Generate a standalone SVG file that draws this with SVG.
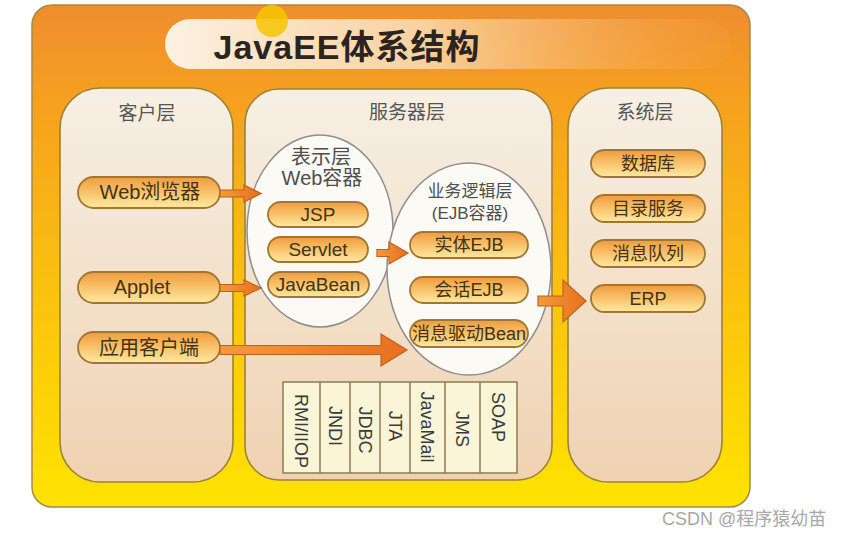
<svg xmlns="http://www.w3.org/2000/svg" width="848" height="537" viewBox="0 0 848 537">
  <defs>
    <linearGradient id="gFrame" x1="0" y1="0" x2="0" y2="1">
      <stop offset="0" stop-color="#EF8D2F"/>
      <stop offset="0.2" stop-color="#F6A11E"/>
      <stop offset="0.6" stop-color="#FCC40E"/>
      <stop offset="1" stop-color="#FFE300"/>
    </linearGradient>
    <linearGradient id="gTitle" x1="0" y1="0" x2="1" y2="0">
      <stop offset="0" stop-color="#FCF1E2" stop-opacity="1"/>
      <stop offset="0.45" stop-color="#FAD9AE" stop-opacity="0.9"/>
      <stop offset="1" stop-color="#F6A648" stop-opacity="0.15"/>
    </linearGradient>
    <linearGradient id="gPanel" x1="0" y1="0" x2="0" y2="1">
      <stop offset="0" stop-color="#F6F0E4"/>
      <stop offset="1" stop-color="#F0D2B2"/>
    </linearGradient>
    <linearGradient id="gPill" x1="0" y1="0" x2="0" y2="1">
      <stop offset="0" stop-color="#F09B3C"/>
      <stop offset="0.5" stop-color="#F8C36C"/>
      <stop offset="1" stop-color="#FFE9A2"/>
    </linearGradient>
    <linearGradient id="gArrow" x1="0" y1="0" x2="1" y2="0">
      <stop offset="0" stop-color="#F39A3A"/>
      <stop offset="1" stop-color="#E8701E"/>
    </linearGradient>
    <style>
      .frame { fill: url(#gFrame); stroke: #A58A45; stroke-width: 1.5; }
      .panel { fill: url(#gPanel); stroke: #9C8236; stroke-width: 1.6; }
      .pill { fill: url(#gPill); stroke: #A07632; stroke-width: 1.8; }
      .ell { fill: #FCFAF4; stroke: #8E8E8E; stroke-width: 1.5; }
      .arrow { fill: url(#gArrow); stroke: #C0601E; stroke-width: 1.2; }
      .t { font-family: "Liberation Sans", "Noto Sans CJK SC", sans-serif; text-anchor: middle; }
      .head { font-size: 19px; fill: #555555; }
      .lbl { fill: #45320E; }
      .grey { fill: #4E4E4E; }
      .tab { fill: #FAF5D6; stroke: #86764A; stroke-width: 1.4; }
      .tabt { font-family: "Liberation Sans", sans-serif; font-size: 18px; fill: #3A3A3A; }
    </style>
  </defs>

  <!-- outer frame -->
  <rect class="frame" x="32" y="5" width="718" height="502" rx="20"/>
  <!-- title bar -->
  <g id="title">
    <rect x="165" y="19" width="565" height="50" rx="25" fill="url(#gTitle)"/>
    <circle cx="272" cy="21" r="16" fill="#F4C600" opacity="0.85"/>
    <text class="t" x="347" y="59" font-size="34" font-weight="bold" fill="#2B2420" letter-spacing="1">JavaEE体系结构</text>
  </g>

  <!-- panels -->
  <g id="client-tier">
    <rect class="panel" x="60" y="88" width="173" height="394" rx="40"/>
    <text class="t head" x="147" y="120">客户层</text>
  </g>
  <g id="server-tier">
    <rect class="panel" x="245" y="89" width="307" height="391" rx="34"/>
    <text class="t head" x="407" y="119">服务器层</text>
  </g>
  <g id="system-tier">
    <rect class="panel" x="568" y="88" width="154" height="394" rx="40"/>
    <text class="t head" x="645" y="119">系统层</text>
  </g>

  <!-- containers -->
  <g id="web-container">
    <ellipse class="ell" cx="320" cy="231" rx="73" ry="96"/>
    <text class="t grey" x="321" y="164" font-size="20">表示层</text>
    <text class="t grey" x="322" y="185" font-size="20">Web容器</text>
  </g>
  <g id="ejb-container">
    <ellipse class="ell" cx="469" cy="269" rx="82" ry="106"/>
    <text class="t grey" x="470" y="197" font-size="17">业务逻辑层</text>
    <text class="t grey" x="470" y="219" font-size="17">(EJB容器)</text>
  </g>

  <!-- client nodes -->
  <g id="web-browser">
    <rect class="pill" x="78" y="177" width="142" height="31" rx="15.5"/>
    <text class="t lbl" x="150" y="199" font-size="20">Web浏览器</text>
  </g>
  <g id="applet">
    <rect class="pill" x="78" y="272" width="142" height="31" rx="15.5"/>
    <text class="t lbl" x="142" y="294" font-size="20">Applet</text>
  </g>
  <g id="app-client">
    <rect class="pill" x="78" y="332" width="142" height="31" rx="15.5"/>
    <text class="t lbl" x="149" y="355" font-size="20">应用客户端</text>
  </g>

  <!-- web container nodes -->
  <g id="jsp">
    <rect class="pill" x="268" y="202" width="100" height="25" rx="12.5"/>
    <text class="t lbl" x="318" y="221" font-size="19">JSP</text>
  </g>
  <g id="servlet">
    <rect class="pill" x="268" y="237" width="100" height="25" rx="12.5"/>
    <text class="t lbl" x="318" y="256" font-size="19">Servlet</text>
  </g>
  <g id="javabean">
    <rect class="pill" x="268" y="272" width="101" height="25" rx="12.5"/>
    <text class="t lbl" x="318" y="291" font-size="19">JavaBean</text>
  </g>

  <!-- EJB nodes -->
  <g id="entity-ejb">
    <rect class="pill" x="410" y="232" width="118" height="26" rx="13"/>
    <text class="t lbl" x="469" y="251" font-size="18">实体EJB</text>
  </g>
  <g id="session-ejb">
    <rect class="pill" x="410" y="277" width="118" height="26" rx="13"/>
    <text class="t lbl" x="469" y="296" font-size="18">会话EJB</text>
  </g>
  <g id="mdb">
    <rect class="pill" x="410" y="320" width="118" height="27" rx="13.5"/>
    <text class="t lbl" x="469" y="340" font-size="18">消息驱动Bean</text>
  </g>

  <!-- system nodes -->
  <g id="database">
    <rect class="pill" x="591" y="150" width="114" height="27" rx="13.5"/>
    <text class="t lbl" x="648" y="170" font-size="18">数据库</text>
  </g>
  <g id="directory">
    <rect class="pill" x="591" y="195" width="114" height="27" rx="13.5"/>
    <text class="t lbl" x="648" y="215" font-size="18">目录服务</text>
  </g>
  <g id="mq">
    <rect class="pill" x="591" y="240" width="114" height="27" rx="13.5"/>
    <text class="t lbl" x="648" y="260" font-size="18">消息队列</text>
  </g>
  <g id="erp">
    <rect class="pill" x="591" y="285" width="114" height="27" rx="13.5"/>
    <text class="t lbl" x="648" y="305" font-size="18">ERP</text>
  </g>

  <!-- API table -->
  <g id="api-table">
    <rect class="tab" x="283" y="382" width="234" height="91"/>
    <path d="M320 382V473M350 382V473M380 382V473M410 382V473M445 382V473M480 382V473" stroke="#86764A" stroke-width="1.4" fill="none"/>
    <g class="tabt" text-anchor="middle">
      <text transform="translate(301,431) rotate(90)" dy="0.35em">RMI/IIOP</text>
      <text transform="translate(335,426) rotate(90)" dy="0.35em">JNDI</text>
      <text transform="translate(365,430) rotate(90)" dy="0.35em">JDBC</text>
      <text transform="translate(395,426) rotate(90)" dy="0.35em">JTA</text>
      <text transform="translate(427,427) rotate(90)" dy="0.35em">JavaMail</text>
      <text transform="translate(462,429) rotate(90)" dy="0.35em">JMS</text>
      <text transform="translate(498,417) rotate(90)" dy="0.35em">SOAP</text>
    </g>
  </g>

  <!-- connectors -->
  <g id="connectors">
    <polygon class="arrow" points="220,190 244,190 244,185 261,193.5 244,202 244,197 220,197"/>
    <polygon class="arrow" points="220,284.5 244,284.5 244,280 261,288 244,296 244,291.5 220,291.5"/>
    <polygon class="arrow" points="220,345.5 381,345.5 381,334 407,350 381,366 381,354.5 220,354.5"/>
    <polygon class="arrow" points="377,249.5 389,249.5 389,242 408,253 389,264 389,256.5 377,256.5"/>
    <polygon class="arrow" points="538,296 563,296 563,280 586,301 563,322 563,306 538,306"/>
  </g>

  <!-- watermark -->
  <text x="662" y="525" font-family="Liberation Sans, Noto Sans CJK SC, sans-serif" font-size="18" fill="#A8A8A8">CSDN @程序猿幼苗</text>
</svg>
